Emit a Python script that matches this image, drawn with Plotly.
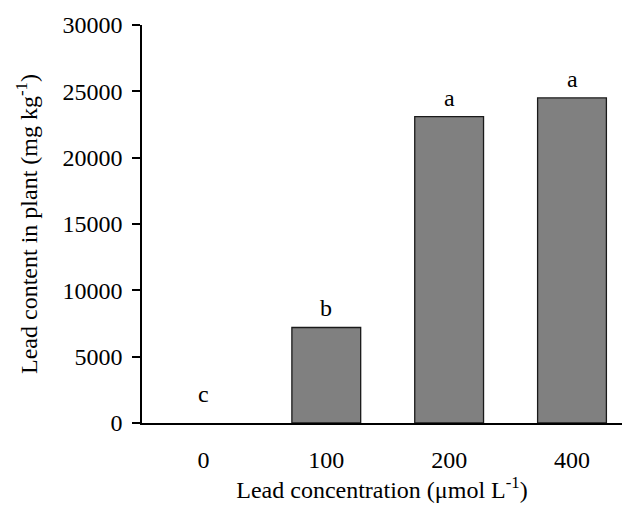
import plotly.graph_objects as go

categories = ["0", "100", "200", "400"]
lead_content = [0, 7200, 23100, 24500]
letters = ["c", "b", "a", "a"]
y_ticks = [0, 5000, 10000, 15000, 20000, 25000, 30000]
y_tick_labels = ["0", "5000", "10000", "15000", "20000", "25000", "30000"]

FONT = "Liberation Serif, Times New Roman, serif"

fig = go.Figure()
fig.add_trace(go.Bar(
    x=categories, y=lead_content, width=0.56,
    marker=dict(color="#808080",
                line=dict(color="#1a1a1a",
                          width=[0 if v == 0 else 1.3 for v in lead_content])),
    showlegend=False,
))

for i, (val, lab) in enumerate(zip(lead_content, letters)):
    fig.add_annotation(
        x=i, y=val, xref="x", yref="y", text=lab, showarrow=False,
        yanchor="bottom", yshift=4 if val > 0 else 14,
        font=dict(family=FONT, size=24, color="black"),
    )

fig.update_layout(
    width=622, height=508,
    margin=dict(l=142, r=0, t=25, b=85),
    paper_bgcolor="white", plot_bgcolor="white",
    font=dict(family=FONT, size=24, color="black"),
)
fig.update_xaxes(
    type="category", range=[-0.5, 3.407], automargin=False,
    showline=True, linecolor="black", linewidth=1.5,
    ticks="", showgrid=False, zeroline=False,
    tickfont=dict(family=FONT, size=24), ticklabelstandoff=14,
    title=dict(text="Lead concentration (\u03bcmol L<sup>-1</sup>)",
               font=dict(family=FONT, size=24), standoff=7),
)
fig.update_yaxes(
    range=[0, 30000], tickvals=y_ticks, ticktext=y_tick_labels, automargin=False,
    showline=True, linecolor="black", linewidth=1.5,
    ticks="outside", ticklen=8, tickwidth=1.5, tickcolor="black",
    showgrid=False, zeroline=False,
    tickfont=dict(family=FONT, size=24), ticklabelstandoff=5,
    title=dict(text="Lead content in plant (mg kg<sup>-1</sup>)",
               font=dict(family=FONT, size=24), standoff=18),
)

fig.write_html("out.html", config={"displayModeBar": False},
               post_script="document.body.style.margin='0';")
